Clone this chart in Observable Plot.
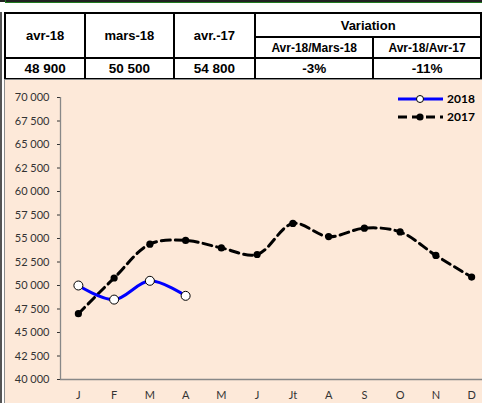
<!DOCTYPE html>
<html><head><meta charset="utf-8">
<script src="https://cdn.jsdelivr.net/npm/d3@7"></script>
<script src="https://cdn.jsdelivr.net/npm/@observablehq/plot@0.6"></script>
<style>
html,body{margin:0;padding:0;width:482px;height:403px;overflow:hidden;background:#fff;font-family:Arial,"Liberation Sans",sans-serif;}
#wrap{position:relative;width:482px;height:403px;overflow:hidden;}
.bar{position:absolute;}
table{position:absolute;left:4px;top:12px;border-collapse:collapse;table-layout:fixed;}
td{border:2px solid #000;text-align:center;font-weight:bold;padding:0;color:#000;box-sizing:border-box;}
td.h{font-size:13px;}
td.s{font-size:12px;}
td.v{font-size:13.5px;}
#panel{position:absolute;left:4px;top:79px;width:500px;height:340px;border:1px solid #8c8c8c;background:#FDE9D9;overflow:hidden;}
#chart{position:absolute;left:0;top:0;}
#chart svg text{font-size:11px;}
#legend{position:absolute;left:395px;top:90px;}
</style></head>
<body><div id="wrap">
<div class="bar" style="left:0;top:0;width:482px;height:2px;background:#222"></div>
<div class="bar" style="left:5px;top:2px;width:477px;height:1px;background:#1f7a1f"></div>
<div class="bar" style="left:5px;top:0;width:1px;height:3px;background:#1f7a1f"></div>
<div class="bar" style="left:0;top:12px;width:2px;height:391px;background:#555"></div>
<table id="tbl"></table>
<div id="panel"><div id="chart"></div></div>
<svg id="legend" width="87" height="36"></svg>
</div>
<script>
const months = ["J","F","M","A","M","J","Jt","A","S","O","N","D"];
const v2018 = [50000, 48500, 50500, 48900];
const v2017 = [47000, 50800, 54400, 54800, 54000, 53300, 56600, 55200, 56100, 55700, 53200, 50900];
const seriesNames = ["2018", "2017"];
const headLabels = ["avr-18", "mars-18", "avr.-17"];
const headValues = ["48 900", "50 500", "54 800"];
const variationTitle = "Variation";
const variationLabels = ["Avr-18/Mars-18", "Avr-18/Avr-17"];
const variationValues = ["-3%", "-11%"];
const yTicks = d3.range(40000, 70001, 2500);

// table
const tbl = document.getElementById("tbl");
const colW = [82, 90, 83, 120, 110];
tbl.innerHTML =
  `<colgroup>${colW.map(w => `<col style="width:${w}px">`).join("")}</colgroup>` +
  `<tr style="height:24px">${headLabels.map(l => `<td class="h" rowspan="2">${l}</td>`).join("")}<td class="h" colspan="2">${variationTitle}</td></tr>` +
  `<tr style="height:21px">${variationLabels.map(l => `<td class="s">${l}</td>`).join("")}</tr>` +
  `<tr style="height:21px">${headValues.concat(variationValues).map(v => `<td class="v">${v}</td>`).join("")}</tr>`;

const d17 = v2017.map((v, i) => ({i, v}));
const d18 = v2018.map((v, i) => ({i, v}));
const fmt = d => d3.format(",")(d).replace(/,/g, " ");

const chart = Plot.plot({
  width: 484, height: 324,
  marginLeft: 55, marginRight: 0, marginTop: 17, marginBottom: 25,
  style: {background: "transparent", fontFamily: "Lato, 'Open Sans', sans-serif", fontSize: "11px", color: "#333"},
  x: {domain: [-0.5, 11.5], ticks: d3.range(12), tickFormat: i => months[i], tickSize: 0, tickPadding: 12, label: null},
  y: {domain: [40000, 70000], ticks: yTicks, tickFormat: fmt, tickSize: 3, tickPadding: 8, label: null},
  marks: [
    Plot.ruleY([40000], {stroke: "#888", strokeWidth: 1.3}),
    Plot.ruleX([-0.5], {y1: 40000, y2: 70000, stroke: "#888", strokeWidth: 1.3}),
    Plot.line(d17, {x: "i", y: "v", curve: "catmull-rom", stroke: "#000", strokeWidth: 3, strokeDasharray: "9,5"}),
    Plot.dot(d17, {x: "i", y: "v", r: 3.6, fill: "#000", stroke: "none"}),
    Plot.line(d18, {x: "i", y: "v", curve: "catmull-rom", stroke: "#0000ff", strokeWidth: 3}),
    Plot.dot(d18, {x: "i", y: "v", r: 4.5, fill: "#fff", stroke: "#000", strokeWidth: 1})
  ]
});
document.getElementById("chart").appendChild(chart);

// legend
const lg = d3.select("#legend");
seriesNames.forEach((name, k) => {
  const y = 9 + k * 18;
  const is18 = k === 0;
  lg.append("line").attr("x1", 3).attr("x2", 48).attr("y1", y).attr("y2", y)
    .attr("stroke", is18 ? "#0000ff" : "#000").attr("stroke-width", 3)
    .attr("stroke-dasharray", is18 ? null : "9,5");
  lg.append("circle").attr("cx", 25).attr("cy", y).attr("r", is18 ? 3.5 : 3.6)
    .attr("fill", is18 ? "#fff" : "#000").attr("stroke", is18 ? "#000" : "none").attr("stroke-width", 1);
  lg.append("text").attr("x", 52).attr("y", y + 4).text(name)
    .attr("font-family", "Lato, sans-serif").attr("font-weight", "bold").attr("font-size", 12).attr("fill", "#000");
});
</script>
</body></html>
